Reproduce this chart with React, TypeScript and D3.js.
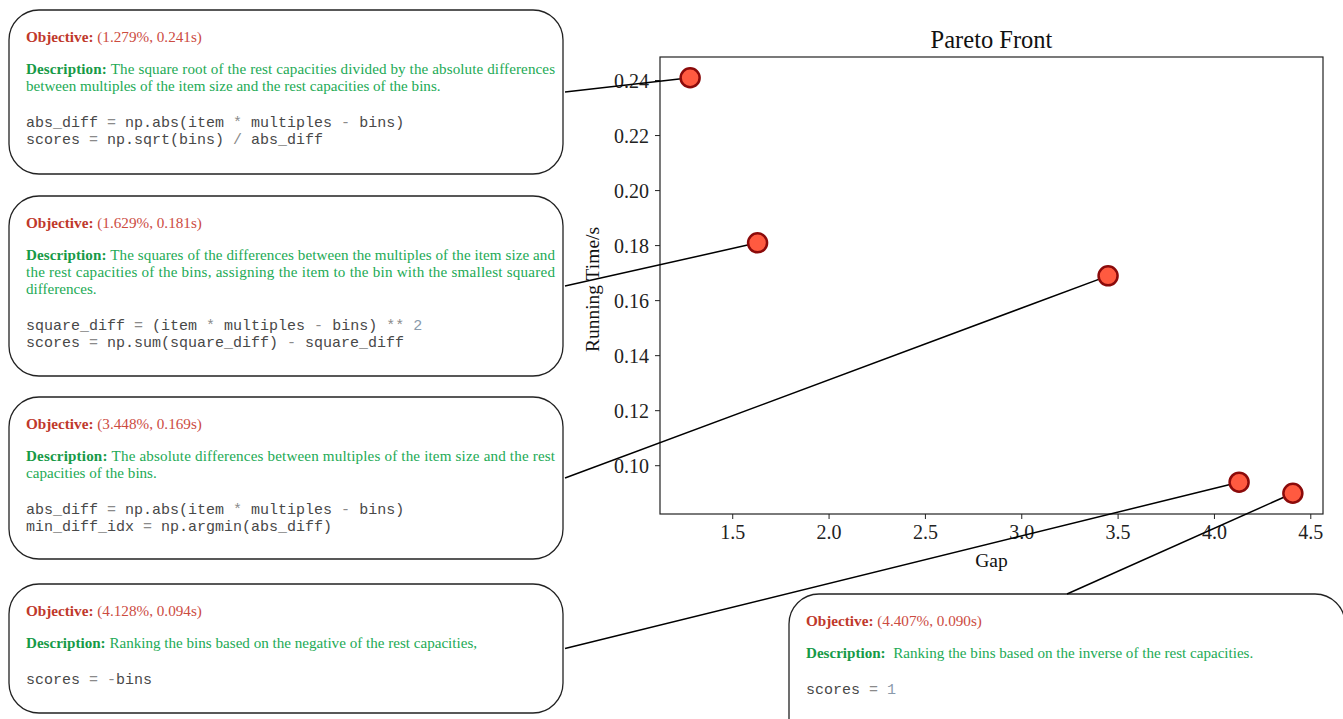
import * as d3 from "d3";

const gaps = [1.279, 1.629, 3.448, 4.128, 4.407];
const times = [0.241, 0.181, 0.169, 0.094, 0.09];

const objectives = [
  "(1.279%, 0.241s)",
  "(1.629%, 0.181s)",
  "(3.448%, 0.169s)",
  "(4.128%, 0.094s)",
  "(4.407%, 0.090s)",
];

const descriptions = [
  [
    "The square root of the rest capacities divided by the absolute differences",
    "between multiples of the item size and the rest capacities of the bins.",
  ],
  [
    "The squares of the differences between the multiples of the item size and",
    "the rest capacities of the bins, assigning the item to the bin with the smallest squared",
    "differences.",
  ],
  [
    "The absolute differences between multiples of the item size and the rest",
    "capacities of the bins.",
  ],
  ["Ranking the bins based on the negative of the rest capacities,"],
  ["\u00a0Ranking the bins based on the inverse of the rest capacities."],
];

const codes = [
  ["abs_diff = np.abs(item * multiples - bins)", "scores = np.sqrt(bins) / abs_diff"],
  ["square_diff = (item * multiples - bins) ** 2", "scores = np.sum(square_diff) - square_diff"],
  ["abs_diff = np.abs(item * multiples - bins)", "min_diff_idx = np.argmin(abs_diff)"],
  ["scores = -bins"],
  ["scores = 1"],
];

const xTicks = [1.5, 2.0, 2.5, 3.0, 3.5, 4.0, 4.5];
const yTicks = [0.1, 0.12, 0.14, 0.16, 0.18, 0.2, 0.22, 0.24];

// box layout (left column + one box under the plot)
const boxes = [
  { x: 9, y: 10, w: 554, h: 164, side: "right" },
  { x: 9, y: 196, w: 554, h: 180, side: "right" },
  { x: 9, y: 397, w: 554, h: 162, side: "right" },
  { x: 9, y: 584, w: 554, h: 129, side: "right" },
  { x: 789, y: 594, w: 556, h: 160, side: "top" },
];

const serif = "'Liberation Serif', 'Times New Roman', serif";
const mono = "'Liberation Mono', 'Courier New', monospace";

const W = 1343;
const H = 719;
const plot = { left: 660, right: 1323, top: 57, bottom: 514 };

function codeTokens(line: string) {
  return line.split(/(\*\*|[*\-=\/]|\b\d+\b)/).filter((s) => s.length > 0);
}

export default function App() {
  const xr = d3.max(gaps)! - d3.min(gaps)!;
  const yr = d3.max(times)! - d3.min(times)!;
  const x = d3
    .scaleLinear()
    .domain([d3.min(gaps)! - 0.05 * xr, d3.max(gaps)! + 0.05 * xr])
    .range([plot.left, plot.right]);
  const y = d3
    .scaleLinear()
    .domain([d3.min(times)! - 0.05 * yr, d3.max(times)! + 0.05 * yr])
    .range([plot.bottom, plot.top]);

  const fx = d3.format(".1f");
  const fy = d3.format(".2f");

  return (
    <svg width={W} height={H} style={{ position: "absolute", left: 0, top: 0, background: "white" }}>
      {/* boxes */}
      {boxes.map((b, i) => {
        const tx = b.x + 17;
        const desc = descriptions[i];
        const objY = b.y + 32;
        const descY = objY + 32;
        const codeY = descY + (desc.length - 1) * 17 + 36;
        return (
          <g key={"box" + i}>
            <rect x={b.x} y={b.y} width={b.w} height={b.h} rx={30} ry={30} fill="white" stroke="#222" strokeWidth={1.3} />
            <text x={tx} y={objY} fontFamily={serif} fontSize={15.2}>
              <tspan fontWeight="bold" fill="#c0392b">Objective:</tspan>
              <tspan fill="#cc4b3f"> {objectives[i]}</tspan>
            </text>
            {desc.map((line, j) => {
              const justify = j < desc.length - 1;
              return (
                <text
                  key={j}
                  x={tx}
                  y={descY + j * 17}
                  fontFamily={serif}
                  fontSize={15.1}
                  fill="#22aa55"
                  textLength={justify ? 529 : undefined}
                  lengthAdjust={justify ? "spacing" : undefined}
                  style={{ whiteSpace: "pre" }}
                >
                  {j === 0 && (
                    <tspan fontWeight="bold" fill="#179a47">
                      Description:{" "}
                    </tspan>
                  )}
                  {line}
                </text>
              );
            })}
            {codes[i].map((line, j) => (
              <text key={"c" + j} x={tx} y={codeY + j * 17} fontFamily={mono} fontSize={15} fill="#484848" style={{ whiteSpace: "pre" }}>
                {codeTokens(line).map((t, k) => (
                  <tspan key={k} fill={/^\d+$/.test(t) ? "#8a9aab" : /^[*\-=\/]+$/.test(t) ? "#8a8a8a" : "#484848"}>
                    {t}
                  </tspan>
                ))}
              </text>
            ))}
          </g>
        );
      })}

      {/* plot frame */}
      <rect
        x={plot.left}
        y={plot.top}
        width={plot.right - plot.left}
        height={plot.bottom - plot.top}
        fill="none"
        stroke="#222"
        strokeWidth={1.2}
      />
      <text x={(plot.left + plot.right) / 2} y={48} textAnchor="middle" fontFamily={serif} fontSize={24.5} fill="#111">
        Pareto Front
      </text>

      {xTicks.map((t) => (
        <g key={"xt" + t} transform={`translate(${x(t)},${plot.bottom})`}>
          <line y2={5} stroke="#222" strokeWidth={1} />
          <text y={25} textAnchor="middle" fontFamily={serif} fontSize={20} fill="#222">
            {fx(t)}
          </text>
        </g>
      ))}
      {yTicks.map((t) => (
        <g key={"yt" + t} transform={`translate(${plot.left},${y(t)})`}>
          <line x2={-5} stroke="#222" strokeWidth={1} />
          <text x={-11} dy="0.35em" textAnchor="end" fontFamily={serif} fontSize={20} fill="#222">
            {fy(t)}
          </text>
        </g>
      ))}
      <text x={(plot.left + plot.right) / 2} y={567} textAnchor="middle" fontFamily={serif} fontSize={19.5} fill="#111">
        Gap
      </text>
      <text
        transform={`translate(599,${(plot.top + plot.bottom) / 2 + 4}) rotate(-90)`}
        textAnchor="middle"
        fontFamily={serif}
        fontSize={19.5}
        fill="#111"
      >
        Running Time/s
      </text>

      {/* leader lines */}
      {boxes.map((b, i) => {
        const ax = b.side === "right" ? b.x + b.w + 2 : b.x + b.w / 2;
        const ay = b.side === "right" ? b.y + b.h / 2 : b.y;
        return <line key={"l" + i} x1={ax} y1={ay} x2={x(gaps[i])} y2={y(times[i])} stroke="#000" strokeWidth={1.5} />;
      })}

      {/* points */}
      {gaps.map((g, i) => (
        <circle key={"p" + i} cx={x(g)} cy={y(times[i])} r={9.5} fill="#ff5a40" stroke="#8b0a0a" strokeWidth={2.5} />
      ))}
    </svg>
  );
}
